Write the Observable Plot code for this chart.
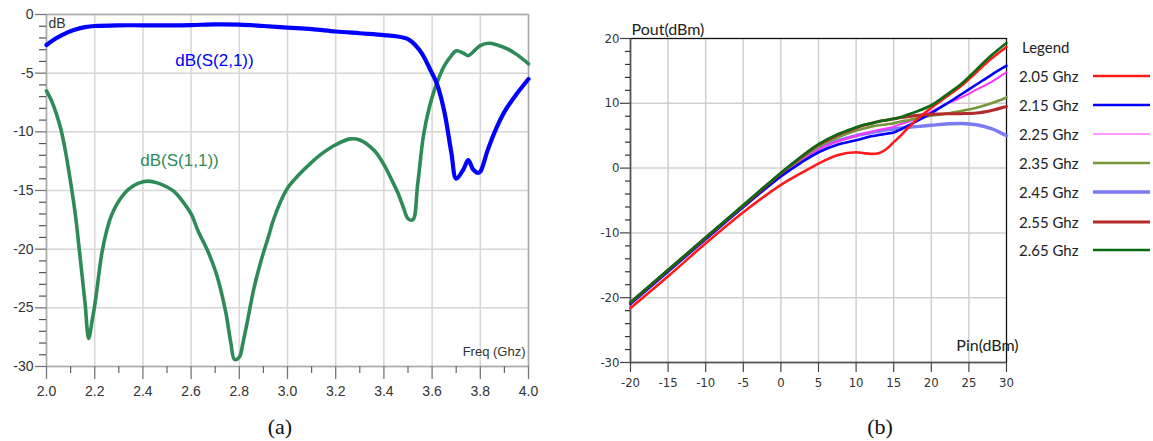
<!DOCTYPE html>
<html><head><meta charset="utf-8">
<script src="https://cdn.jsdelivr.net/npm/d3@7"></script>
<script src="https://cdn.jsdelivr.net/npm/@observablehq/plot@0.6"></script>
<style>
body{margin:0;background:#fff;}
#wrap{position:relative;width:1153px;height:441px;overflow:hidden;background:#fff;}
#wrap > svg{position:absolute;}
</style></head><body><div id="wrap"></div>
<script>
// ---------- Panel (a): S-parameters ----------
const freqS21 = [2.0,2.03,2.06,2.09,2.12,2.16,2.2,2.3,2.4,2.5,2.6,2.7,2.8,2.9,3.0,3.1,3.2,3.3,3.4,3.45,3.5,3.53,3.56,3.59,3.62,3.65,3.68,3.7,3.73,3.75,3.77,3.79,3.8,3.83,3.86,3.9,3.95,4.0];
const dbS21   = [-2.6,-2.15,-1.8,-1.5,-1.28,-1.08,-0.98,-0.92,-0.92,-0.92,-0.9,-0.84,-0.86,-0.98,-1.12,-1.25,-1.45,-1.6,-1.75,-1.85,-2.1,-2.6,-3.4,-4.6,-5.9,-8.2,-11.8,-14.0,-13.2,-12.4,-13.2,-13.5,-13.4,-11.6,-10.0,-8.3,-6.8,-5.5];
const freqS11 = [2.0,2.02,2.04,2.06,2.08,2.1,2.12,2.14,2.16,2.175,2.19,2.2,2.21,2.23,2.25,2.27,2.3,2.34,2.38,2.42,2.46,2.5,2.53,2.56,2.6,2.63,2.67,2.7,2.72,2.745,2.765,2.78,2.8,2.815,2.835,2.86,2.89,2.92,2.94,2.97,3.0,3.05,3.1,3.14,3.2,3.26,3.3,3.36,3.4,3.43,3.46,3.48,3.5,3.52,3.54,3.565,3.59,3.61,3.63,3.65,3.68,3.7,3.73,3.75,3.78,3.8,3.835,3.87,3.91,3.95,4.0];
const dbS11   = [-6.5,-7.3,-8.4,-9.8,-11.8,-14.3,-17.1,-20.8,-24.6,-27.6,-26.0,-24.8,-23.3,-20.3,-18.4,-17.1,-15.9,-14.9,-14.4,-14.2,-14.35,-14.7,-15.1,-15.8,-17.0,-18.5,-20.2,-21.8,-23.2,-25.5,-28.0,-29.4,-29.2,-28.0,-26.0,-23.4,-21.0,-19.0,-17.6,-16.0,-14.8,-13.6,-12.6,-11.9,-11.1,-10.6,-10.7,-11.6,-12.8,-14.0,-15.3,-16.4,-17.4,-17.5,-14.5,-10.2,-7.8,-6.4,-5.3,-4.4,-3.5,-3.1,-3.3,-3.5,-3.0,-2.65,-2.45,-2.6,-2.9,-3.4,-4.2];
const freqTicks = [2.0,2.2,2.4,2.6,2.8,3.0,3.2,3.4,3.6,3.8,4.0];
const freqMinor = [2.1,2.3,2.5,2.7,2.9,3.1,3.3,3.5,3.7,3.9];
const dbTicks = [0,-5,-10,-15,-20,-25,-30];
const dbMinor = [-1,-2,-3,-4,-6,-7,-8,-9,-11,-12,-13,-14,-16,-17,-18,-19,-21,-22,-23,-24,-26,-27,-28,-29];

// ---------- Panel (b): Pout vs Pin ----------
const pin = [-20,-15,-10,-5,0,2.5,5,7.5,10,11,12,13,14,15,16,17,18,20,22,24,26,28,30];
const legendLabels = ["2.05 Ghz","2.15 Ghz","2.25 Ghz","2.35 Ghz","2.45 Ghz","2.55 Ghz","2.65 Ghz"];
const pout205 = [-21.6,-16.7,-11.6,-6.8,-2.6,-0.9,0.7,2.0,2.45,2.3,2.2,2.3,2.9,4.0,5.1,6.3,7.4,9.3,11.0,12.7,14.8,16.9,18.7];
const pout215 = [-20.95,-15.95,-10.95,-6.0,-1.3,0.7,2.45,3.6,4.3,4.6,4.9,5.1,5.3,5.5,6.0,6.6,7.2,8.5,9.9,11.4,12.9,14.4,15.8];
const pout225 = [-20.9,-15.9,-10.9,-5.9,-1.1,1.0,2.9,4.1,5.0,5.3,5.6,5.9,6.1,6.4,6.8,7.2,7.6,8.7,9.9,10.9,12.1,13.3,14.8];
const pout235 = [-20.8,-15.8,-10.8,-5.85,-0.9,1.3,3.3,4.7,5.8,6.1,6.4,6.6,6.75,6.9,7.2,7.4,7.7,8.1,8.4,8.8,9.3,10.0,10.9];
const pout245 = [-20.85,-15.85,-10.85,-5.9,-1.0,1.1,3.0,4.2,5.0,5.25,5.5,5.7,5.9,6.05,6.2,6.3,6.4,6.6,6.8,6.9,6.7,6.1,5.0];
const pout255 = [-20.75,-15.75,-10.75,-5.8,-0.8,1.5,3.6,5.1,6.2,6.6,6.9,7.2,7.4,7.6,7.8,7.95,8.1,8.3,8.4,8.4,8.5,8.9,9.5];
const pout265 = [-20.7,-15.7,-10.7,-5.7,-0.7,1.6,3.7,5.2,6.3,6.7,6.9,7.2,7.4,7.6,7.9,8.3,8.7,9.7,11.3,13.0,15.2,17.4,19.3];
const pinTicks = [-20,-15,-10,-5,0,5,10,15,20,25,30];
const poutTicks = [20,10,0,-10,-20,-30];
const poutMinor = [18,16,14,12,8,6,4,2,-2,-4,-6,-8,-12,-14,-16,-18,-22,-24,-26,-28];

const seriesValues = [pout205,pout215,pout225,pout235,pout245,pout255,pout265];
const seriesColors = ["#ff1a1a","#0000ff","#ff33ff","#77963a","#7b7bf5","#b22a2a","#0b6b14"];
const seriesWidths = [2.6,2.6,2,2.6,3.5,3,2.6];
const legendWidths = [2.5,2.5,1.2,2.5,3.5,3,2.5];
const drawOrder = [4,2,3,1,5,0,6];

const wrap = document.getElementById("wrap");
const fmt = d => String(d);

// ---- Plot (a)
const s21 = freqS21.map((f,i) => ({f, v: dbS21[i]}));
const s11 = freqS11.map((f,i) => ({f, v: dbS11[i]}));
const plotA = Plot.plot({
  width: 560, height: 410,
  marginLeft: 46, marginRight: 32, marginTop: 14, marginBottom: 44,
  x: {domain: [2, 4], label: null},
  y: {domain: [-30, 0], label: null},
  style: {fontFamily: "'Liberation Sans', Arial, sans-serif", fontSize: "14px", color: "#333", background: "transparent", overflow: "visible"},
  marks: [
    Plot.gridX(freqTicks, {stroke: "#d6d6d6", strokeOpacity: 1, strokeWidth: 1.5}),
    Plot.gridY(dbTicks, {stroke: "#d6d6d6", strokeOpacity: 1, strokeWidth: 1.5}),
    Plot.frame({stroke: "#a8a8a8", strokeWidth: 1.5}),
    // minor ticks
    Plot.ruleX(freqMinor, {x: d => d, y1: -30, y2: -30, insetBottom: -7, stroke: "#666", strokeWidth: 1.2}),
    Plot.ruleY(dbMinor, {y: d => d, x1: 2, x2: 2, insetLeft: -7, stroke: "#555", strokeWidth: 1.2}),
    // major ticks and labels
    Plot.ruleX(freqTicks, {x: d => d, y1: -30, y2: -30, insetBottom: -13, stroke: "#777", strokeWidth: 1.3}),
    Plot.ruleY(dbTicks, {y: d => d, x1: 2, x2: 2, insetLeft: -11, stroke: "#777", strokeWidth: 1.3}),
    Plot.axisX({ticks: freqTicks, tickSize: 0, tickPadding: 20, tickFormat: d => d.toFixed(1), fill: "#333", label: null}),
    Plot.axisY({ticks: dbTicks, tickSize: 0, tickPadding: 13, tickFormat: fmt, fill: "#333", label: null}),
    Plot.line(s11, {x: "f", y: "v", stroke: "#2e8b57", strokeWidth: 3.6, curve: "catmull-rom", strokeLinejoin: "round"}),
    Plot.line(s21, {x: "f", y: "v", stroke: "#0000ff", strokeWidth: 4.2, curve: "catmull-rom", strokeLinejoin: "round"}),
    Plot.text(["dB"], {x: 2.0, y: 0, dx: 2, dy: 9, textAnchor: "start", fontSize: 14, fill: "#333"}),
    Plot.text(["dB(S(2,1))"], {x: 2.697, y: -3.92, fontSize: 17, fill: "#0000ff"}),
    Plot.text(["dB(S(1,1))"], {x: 2.552, y: -12.45, fontSize: 17, fill: "#2e8b57"}),
    Plot.text(["Freq (Ghz)"], {x: 4.0, y: -28.77, dx: -3, textAnchor: "end", fontSize: 13, fill: "#333"})
  ]
});
plotA.style.left = "0px"; plotA.style.top = "0px";
wrap.appendChild(plotA);

// ---- Plot (b)
const rows = drawOrder.flatMap(k => pin.map((p,i) => ({p, v: seriesValues[k][i], k})));
const plotB = Plot.plot({
  width: 440, height: 400,
  marginLeft: 50, marginRight: 14, marginTop: 38, marginBottom: 38,
  x: {domain: [-20, 30], label: null},
  y: {domain: [-30, 20], label: null},
  style: {fontFamily: "'Liberation Sans Narrow', 'DejaVu Sans Condensed', sans-serif", fontSize: "13px", color: "#333", background: "transparent", overflow: "visible"},
  marks: [
    Plot.gridX(pinTicks, {stroke: "#cfcfcf", strokeOpacity: 1, strokeWidth: 1.5}),
    Plot.gridY(poutTicks, {stroke: "#cfcfcf", strokeOpacity: 1, strokeWidth: 1.5}),
    Plot.frame({stroke: "#111", strokeWidth: 1.2}),
    Plot.ruleX([-20], {stroke: "#555", strokeWidth: 1.5}),
    Plot.ruleY([-30], {stroke: "#555", strokeWidth: 1.5}),
    Plot.ruleX(pinTicks, {x: d => d, y1: -30, y2: -30, insetBottom: -10, stroke: "#444", strokeWidth: 1.2}),
    Plot.ruleY(poutMinor, {y: d => d, x1: -20, x2: -20, insetLeft: -5, stroke: "#333", strokeWidth: 1.2}),
    Plot.ruleY(poutTicks, {y: d => d, x1: -20, x2: -20, insetLeft: -10, stroke: "#444", strokeWidth: 1.2}),
    Plot.axisX({ticks: pinTicks, tickSize: 0, tickPadding: 15, tickFormat: fmt, fill: "#333", label: null}),
    Plot.axisY({ticks: poutTicks, tickSize: 0, tickPadding: 11, tickFormat: fmt, fill: "#333", label: null}),
    ...drawOrder.map(k => Plot.line(rows.filter(r => r.k === k), {x: "p", y: "v", stroke: seriesColors[k], strokeWidth: seriesWidths[k], curve: "catmull-rom", strokeLinejoin: "round"})),
    Plot.text(["Pout(dBm)"], {x: -20, y: 20, dx: 1, dy: -9, textAnchor: "start", fontSize: 16, fontFamily: "Lato, sans-serif", fill: "#222"}),
    Plot.text(["Pin(dBm)"], {x: 27.47, y: -27.4, fontSize: 16, fontFamily: "Lato, sans-serif", fill: "#222"})
  ]
});
plotB.style.left = "580px"; plotB.style.top = "0px";
wrap.appendChild(plotB);

// ---- Legend and captions overlay
const svg = d3.select(wrap).append("svg")
  .attr("width", 1153).attr("height", 441)
  .style("left", "0px").style("top", "0px").style("pointer-events", "none");
svg.append("text").attr("x", 1022).attr("y", 53).text("Legend")
  .attr("font-family", "Lato, sans-serif").attr("font-size", 15).attr("fill", "#222");
const legendY = [77, 106, 135, 164, 193, 223, 251];
legendLabels.forEach((lab, i) => {
  svg.append("text").attr("x", 1019).attr("y", legendY[i] + 5).text(lab)
    .attr("font-family", "Lato, sans-serif").attr("font-size", 15).attr("fill", "#222");
  svg.append("line").attr("x1", 1093).attr("x2", 1150).attr("y1", legendY[i] - 1).attr("y2", legendY[i] - 1)
    .attr("stroke", seriesColors[i]).attr("stroke-width", legendWidths[i]);
});
svg.append("text").attr("x", 280).attr("y", 434).attr("text-anchor", "middle").text("(a)")
  .attr("font-family", "'Liberation Serif', serif").attr("font-size", 22).attr("fill", "#111");
svg.append("text").attr("x", 880).attr("y", 434).attr("text-anchor", "middle").text("(b)")
  .attr("font-family", "'Liberation Serif', serif").attr("font-size", 22).attr("fill", "#111");
</script></body></html>
